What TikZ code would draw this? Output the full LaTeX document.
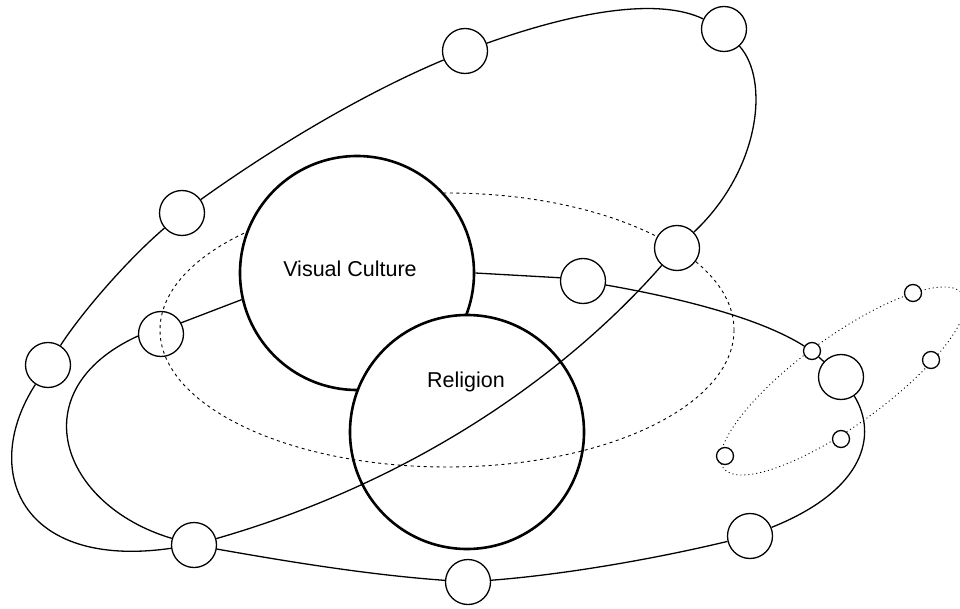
\documentclass[tikz,border=0pt]{standalone}
\usepackage{fontspec}
\setmainfont{Liberation Sans}
\begin{document}
\begin{tikzpicture}[x=1pt,y=-1pt,
  big/.style={circle, draw, line width=2.6pt, fill=white, minimum size=234pt, inner sep=0pt},
  sat/.style={circle, draw, line width=1.3pt, fill=white, minimum size=45pt, inner sep=0pt},
  moon/.style={circle, draw, line width=1.3pt, fill=white, minimum size=17pt, inner sep=0pt},
  link/.style={line width=1.3pt},
  dashring/.style={line width=0.9pt, dash pattern=on 3pt off 3.5pt},
  dotring/.style={line width=0.9pt, dash pattern=on 1pt off 3pt},
  lbl/.style={font=\fontsize{21.5}{24}\selectfont, anchor=base, inner sep=0pt}]
\useasboundingbox (0,0) rectangle (960,609);
\clip (0,0) rectangle (960,609);

% rings
\draw[dashring] (447,330) ellipse [x radius=287, y radius=137];
\draw[dotring, rotate around={36:(843,381)}] (843,381) ellipse [x radius=148, y radius=44];

% main circles
\node[big] (vc) at (357,273) {};
\node[big] (rel) at (467,432) {};
\begin{scope}
  \clip (467,432) circle [radius=116];
  \draw[dashring] (447,330) ellipse [x radius=287, y radius=137];
\end{scope}
\node[lbl] (vct) at (350,277) {Visual Culture};
\node[lbl] (relt) at (466,387) {Religion};

% satellites
\node[sat] (c1) at (465,51) {};
\node[sat] (c2) at (724,29) {};
\node[sat] (c3) at (182,213) {};
\node[sat] (c4) at (677,248) {};
\node[sat] (c5) at (583,281) {};
\node[sat, fill=none] (c6) at (161,334) {};
\node[sat] (c7) at (48,365) {};
\node[sat] (c8) at (841,377) {};
\node[sat] (c9) at (194,545) {};
\node[sat] (c10) at (750,536) {};
\node[sat] (c11) at (468,582) {};

% small moons
\node[moon] (sa) at (812,351) {};
\node[moon] (sb) at (913,293) {};
\node[moon] (sc) at (931,360) {};
\node[moon] (sd) at (841,439) {};
\node[moon] (se) at (725,456) {};

% outer loop
\draw[link] (c7) .. controls (80,315) and (125,262) .. (c3);
\draw[link] (c3) .. controls (270,150) and (360,95) .. (c1);
\draw[link] (c1) .. controls (580,10) and (660,-2) .. (c2);
\draw[link] (c2) .. controls (770,80) and (760,170) .. (c4);
\draw[link] (c4) .. controls (570,370) and (420,480) .. (c9);
\draw[link] (c9) .. controls (20,570) and (-20,470) .. (c7);

% inner loop
\draw[link] (c6.29) -- (vc.193);
\draw[link] (vc.0) -- (c5.172);
\draw[link] (c5) .. controls (680,298) and (760,318) .. (sa);
\draw[link] (sa) -- (c8);
\draw[link] (c8.-55) .. controls (878,435) and (865,490) .. (c10);
\draw[link] (c10) .. controls (650,560) and (560,575) .. (c11);
\draw[link] (c11) .. controls (370,575) and (290,562) .. (c9);
\draw[link] (c9) .. controls (60,505) and (20,390) .. (c6.185);
\end{tikzpicture}
\end{document}
